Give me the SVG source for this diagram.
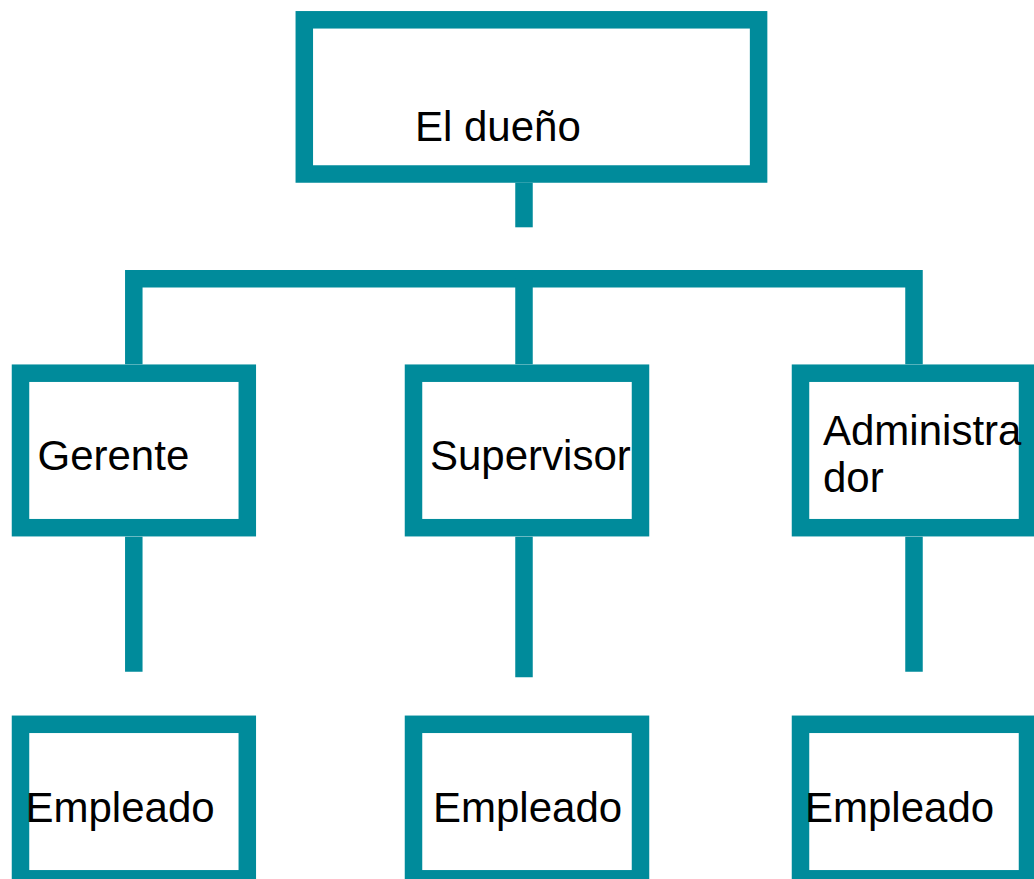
<svg xmlns="http://www.w3.org/2000/svg" width="1034" height="879" viewBox="0 0 1034 879">
<style>
.box{fill:#ffffff;stroke:#008B9B;stroke-width:17.5}
.con{fill:none;stroke:#008B9B;stroke-width:17.5;stroke-linejoin:miter;stroke-linecap:butt}
.lbl{font-family:"Liberation Sans",Arial,Helvetica,sans-serif;font-size:42px;fill:#000000}
</style>
<rect x="0" y="0" width="1034" height="879" fill="#ffffff"/>
<g id="connectors">
<path class="con" d="M524 182.7 V227.3"/>
<path class="con" d="M133.8 364.3 V278.7 H914 V364.3"/>
<path class="con" d="M524 278.7 V364.3"/>
<path class="con" d="M133.8 536.7 V671.7"/>
<path class="con" d="M524 536.7 V677.3"/>
<path class="con" d="M914 536.7 V671.7"/>
</g>
<g id="node-dueno">
<rect class="box" x="304.3" y="19.8" width="454.3" height="154.2"/>
<text class="lbl" x="415" y="141">El dueño</text>
</g>
<g id="node-gerente">
<rect class="box" x="20.5" y="373.2" width="226.8" height="154.5"/>
<text class="lbl" x="37.5" y="470">Gerente</text>
</g>
<g id="node-supervisor">
<rect class="box" x="413.5" y="373.2" width="227" height="154.5"/>
<text class="lbl" x="430" y="470">Supervisor</text>
</g>
<g id="node-administrador">
<rect class="box" x="800.5" y="373.2" width="227" height="154.5"/>
<text class="lbl" x="823" y="445">Administra</text>
<text class="lbl" x="823" y="492.3">dor</text>
</g>
<g id="node-empleado-1">
<rect class="box" x="20.5" y="724.3" width="226.8" height="154.5"/>
<text class="lbl" x="25.5" y="821.7">Empleado</text>
</g>
<g id="node-empleado-2">
<rect class="box" x="413.5" y="724.3" width="227" height="154.5"/>
<text class="lbl" x="433" y="821.7">Empleado</text>
</g>
<g id="node-empleado-3">
<rect class="box" x="800.5" y="724.3" width="227" height="154.5"/>
<text class="lbl" x="805" y="821.7">Empleado</text>
</g>
</svg>
